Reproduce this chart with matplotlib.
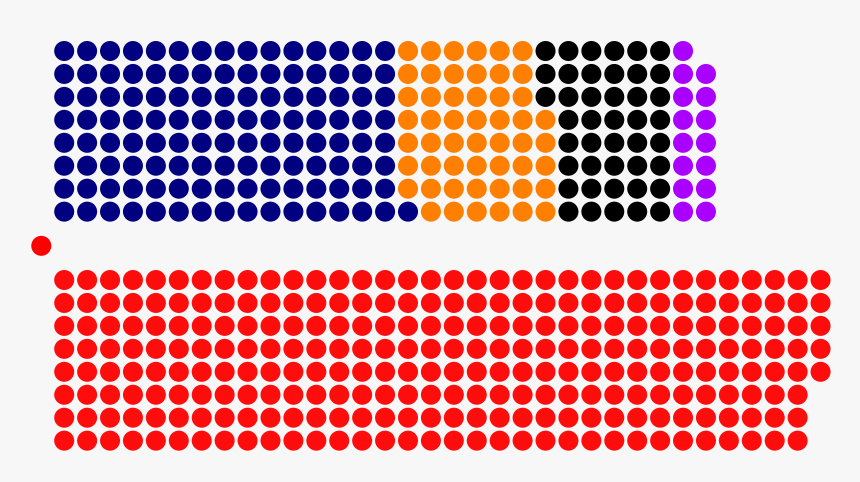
import matplotlib
matplotlib.use("Agg")
import matplotlib.pyplot as plt
from matplotlib.patches import Circle

# Data: seats per party
top_parties = ["Blue", "Orange", "Black", "Purple"]
top_seats = [121, 52, 43, 15]
top_colors = ["#000080", "#FF7F00", "#000000", "#AA00FF"]

bottom_parties = ["Red"]
bottom_seats = [269]
bottom_colors = ["#FF0D0D"]

speaker_seats = 1
speaker_color = "#FF0000"

# Layout
W, H = 860, 482
ROWS = 8
X0, DX = 64.2, 22.92
TOP_Y0, DY = 51.0, 22.95
BOT_Y0 = 280.0
R = 10.0
BG = "#F7F7F7"

fig = plt.figure(figsize=(W / 100, H / 100), dpi=100, facecolor=BG)
ax = fig.add_axes([0, 0, 1, 1])
ax.set_facecolor(BG)
ax.set_xlim(0, W)
ax.set_ylim(H, 0)
ax.set_aspect("equal")
ax.axis("off")


def draw_block(seats, colors, y0, bottom_up):
    idx = 0
    for n, c in zip(seats, colors):
        for _ in range(n):
            col, k = divmod(idx, ROWS)
            row = (ROWS - 1 - k) if bottom_up else k
            ax.add_patch(Circle((X0 + col * DX, y0 + row * DY), R,
                                facecolor=c, edgecolor="none"))
            idx += 1


draw_block(top_seats, top_colors, TOP_Y0, bottom_up=True)
draw_block(bottom_seats, bottom_colors, BOT_Y0, bottom_up=False)

for i in range(speaker_seats):
    ax.add_patch(Circle((X0 - DX, (TOP_Y0 + (ROWS - 1) * DY + BOT_Y0) / 2),
                        R, facecolor=speaker_color, edgecolor="none"))

fig.savefig("out.png", dpi=100, facecolor=BG)
